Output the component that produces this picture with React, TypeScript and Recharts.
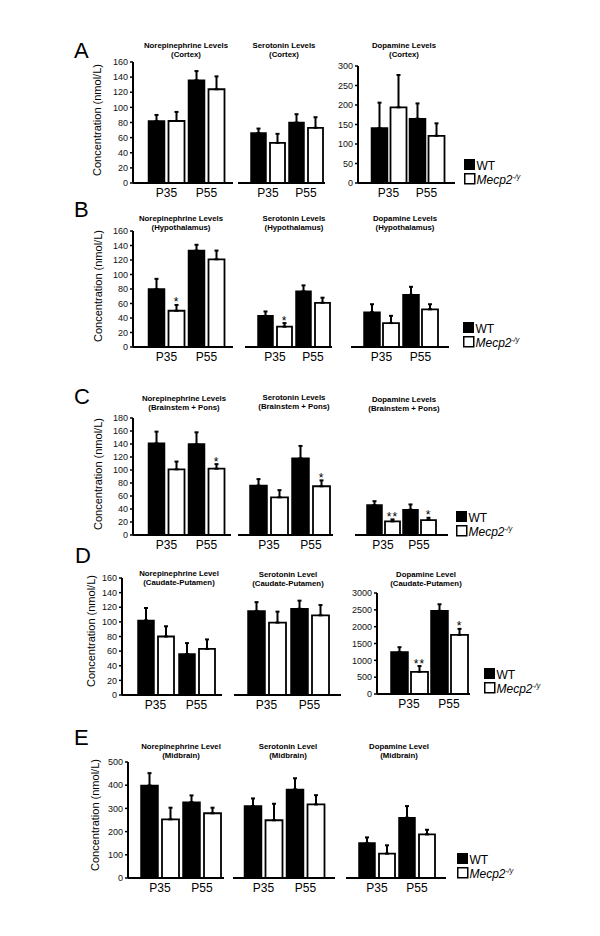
import React from 'react';
import { BarChart, Bar, XAxis, YAxis, ErrorBar, LabelList } from 'recharts';

const FONT = "'Liberation Sans', Arial, Helvetica, sans-serif";

const AGES = ['P35', 'P55'];
const TICKS_160 = [0, 20, 40, 60, 80, 100, 120, 140, 160];
const TICKS_180 = [0, 20, 40, 60, 80, 100, 120, 140, 160, 180];
const TICKS_300 = [0, 50, 100, 150, 200, 250, 300];
const TICKS_3000 = [0, 500, 1000, 1500, 2000, 2500, 3000];
const TICKS_500 = [0, 100, 200, 300, 400, 500];

const PANELS = ['A', 'B', 'C', 'D', 'E'];
const REGIONS = ['(Cortex)', '(Hypothalamus)', '(Brainstem + Pons)', '(Caudate-Putamen)', '(Midbrain)'];
const TITLES_PLURAL = ['Norepinephrine Levels', 'Serotonin Levels', 'Dopamine Levels'];
const TITLES_SINGLE = ['Norepinephrine Level', 'Serotonin Level', 'Dopamine Level'];

// A - cortex
const ctxNeWt = [82, 136];
const ctxNeWtErr = [8, 12];
const ctxNeKo = [82, 124];
const ctxNeKoErr = [12, 17];
const ctxSerWt = [66, 80];
const ctxSerWtErr = [6, 11];
const ctxSerKo = [53, 73];
const ctxSerKoErr = [12, 14];
const ctxDaWt = [141, 165];
const ctxDaWtErr = [65, 39];
const ctxDaKo = [194, 121];
const ctxDaKoErr = [83, 32];

// B - hypothalamus
const hypNeWt = [80, 133];
const hypNeWtErr = [14, 8];
const hypNeKo = [50, 121];
const hypNeKoErr = [8, 12];
const hypNeSig = ['*', ''];
const hypSerWt = [43, 77];
const hypSerWtErr = [6, 8];
const hypSerKo = [28, 61];
const hypSerKoErr = [5, 7];
const hypSerSig = ['*', ''];
const hypDaWt = [48, 72];
const hypDaWtErr = [11, 11];
const hypDaKo = [33, 52];
const hypDaKoErr = [10, 7];

// C - brainstem + pons
const bsNeWt = [141, 140];
const bsNeWtErr = [18, 18];
const bsNeKo = [101, 102];
const bsNeKoErr = [12, 7];
const bsNeSig = ['', '*'];
const bsSerWt = [76, 118];
const bsSerWtErr = [10, 19];
const bsSerKo = [58, 75];
const bsSerKoErr = [11, 9];
const bsSerSig = ['', '*'];
const bsDaWt = [46, 39];
const bsDaWtErr = [6, 8];
const bsDaKo = [21, 23];
const bsDaKoErr = [3, 3.5];
const bsDaSig = ['**', '*'];

// D - caudate-putamen
const cpNeWt = [102, 56];
const cpNeWtErr = [17, 15];
const cpNeKo = [80, 63];
const cpNeKoErr = [14, 13];
const cpSerWt = [115, 118];
const cpSerWtErr = [12, 11];
const cpSerKo = [99, 109];
const cpSerKoErr = [15, 14];
const cpDaWt = [1250, 2470];
const cpDaWtErr = [140, 195];
const cpDaKo = [660, 1755];
const cpDaKoErr = [170, 180];
const cpDaSig = ['**', '*'];

// E - midbrain
const mbNeWt = [399, 327];
const mbNeWtErr = [53, 29];
const mbNeKo = [253, 279];
const mbNeKoErr = [50, 24];
const mbSerWt = [310, 382];
const mbSerWtErr = [33, 48];
const mbSerKo = [249, 317];
const mbSerKoErr = [71, 40];
const mbDaWt = [151, 260];
const mbDaWtErr = [24, 50];
const mbDaKo = [105, 188];
const mbDaKoErr = [36, 20];

type Spec = {
  wt: number[]; wtErr: number[]; ko: number[]; koErr: number[]; sig?: string[];
  x0: number; x1: number; yTop: number; yBot: number; max: number; ticks?: number[];
  bs: number; gap: number; band: number; padL: number;
};

const charts: Spec[] = [
  { wt: ctxNeWt, wtErr: ctxNeWtErr, ko: ctxNeKo, koErr: ctxNeKoErr, x0: 133, x1: 233, yTop: 62, yBot: 183, max: 160, ticks: TICKS_160, bs: 16, gap: 4, band: 40, padL: 13.5 },
  { wt: ctxSerWt, wtErr: ctxSerWtErr, ko: ctxSerKo, koErr: ctxSerKoErr, x0: 238, x1: 325, yTop: 62, yBot: 183, max: 160, bs: 15, gap: 4, band: 38, padL: 11 },
  { wt: ctxDaWt, wtErr: ctxDaWtErr, ko: ctxDaKo, koErr: ctxDaKoErr, x0: 358, x1: 455, yTop: 66, yBot: 183, max: 300, ticks: TICKS_300, bs: 16, gap: 3, band: 38, padL: 11.5 },

  { wt: hypNeWt, wtErr: hypNeWtErr, ko: hypNeKo, koErr: hypNeKoErr, sig: hypNeSig, x0: 133, x1: 233, yTop: 231, yBot: 347, max: 160, ticks: TICKS_160, bs: 16, gap: 4, band: 40, padL: 13.5 },
  { wt: hypSerWt, wtErr: hypSerWtErr, ko: hypSerKo, koErr: hypSerKoErr, sig: hypSerSig, x0: 245, x1: 332, yTop: 231, yBot: 347, max: 160, bs: 15, gap: 4, band: 38, padL: 11 },
  { wt: hypDaWt, wtErr: hypDaWtErr, ko: hypDaKo, koErr: hypDaKoErr, x0: 351, x1: 449, yTop: 231, yBot: 347, max: 160, bs: 16, gap: 3, band: 39, padL: 11 },

  { wt: bsNeWt, wtErr: bsNeWtErr, ko: bsNeKo, koErr: bsNeKoErr, sig: bsNeSig, x0: 133, x1: 231, yTop: 418, yBot: 535, max: 180, ticks: TICKS_180, bs: 16, gap: 4, band: 40, padL: 13.5 },
  { wt: bsSerWt, wtErr: bsSerWtErr, ko: bsSerKo, koErr: bsSerKoErr, sig: bsSerSig, x0: 238, x1: 333, yTop: 418, yBot: 535, max: 180, bs: 17, gap: 4, band: 42, padL: 10 },
  { wt: bsDaWt, wtErr: bsDaWtErr, ko: bsDaKo, koErr: bsDaKoErr, sig: bsDaSig, x0: 355, x1: 448, yTop: 418, yBot: 535, max: 180, bs: 15, gap: 3, band: 36, padL: 10 },

  { wt: cpNeWt, wtErr: cpNeWtErr, ko: cpNeKo, koErr: cpNeKoErr, x0: 122, x1: 222, yTop: 578, yBot: 695, max: 160, ticks: TICKS_160, bs: 16, gap: 4, band: 41, padL: 13 },
  { wt: cpSerWt, wtErr: cpSerWtErr, ko: cpSerKo, koErr: cpSerKoErr, x0: 234, x1: 341, yTop: 578, yBot: 695, max: 160, bs: 17, gap: 4, band: 43, padL: 11 },
  { wt: cpDaWt, wtErr: cpDaWtErr, ko: cpDaKo, koErr: cpDaKoErr, sig: cpDaSig, x0: 377, x1: 470, yTop: 593, yBot: 694, max: 3000, ticks: TICKS_3000, bs: 17, gap: 3, band: 40, padL: 12 },

  { wt: mbNeWt, wtErr: mbNeWtErr, ko: mbNeKo, koErr: mbNeKoErr, x0: 128, x1: 224, yTop: 762, yBot: 878, max: 500, ticks: TICKS_500, bs: 17, gap: 4, band: 42, padL: 11 },
  { wt: mbSerWt, wtErr: mbSerWtErr, ko: mbSerKo, koErr: mbSerKoErr, x0: 233, x1: 335, yTop: 762, yBot: 878, max: 500, bs: 17, gap: 4, band: 42, padL: 9.5 },
  { wt: mbDaWt, wtErr: mbDaWtErr, ko: mbDaKo, koErr: mbDaKoErr, x0: 346, x1: 446, yTop: 762, yBot: 878, max: 500, bs: 16, gap: 4, band: 40, padL: 11 },
];

// per row: letter baseline, y-title centre, legend box, title centres
const rows = [
  { letterY: 58, yTitle: [97, 120], legend: [464, 159], titles: [[186, 45], [284, 45], [404, 45]] },
  { letterY: 217, yTitle: [98, 286], legend: [463, 322], titles: [[181, 218], [294, 218], [405, 218]] },
  { letterY: 404, yTitle: [98, 474], legend: [456, 511], titles: [[184, 398], [294, 397], [404, 399]] },
  { letterY: 563, yTitle: [91, 631], legend: [484, 668], titles: [[179, 573], [288, 574], [426, 574]] },
  { letterY: 745, yTitle: [95, 815], legend: [457, 853], titles: [[181, 746], [288, 746], [399, 746]] },
];

const Y_W = 30;
const M_TOP = 8;
const X_H = 24;
const M_RIGHT = 2;

const sigLabel = (s: Spec) => (props: any) => {
  const idx = props.index;
  const mark = s.sig ? s.sig[idx] : '';
  if (!mark) return null;
  const vb = props.viewBox && props.viewBox.width !== undefined ? props.viewBox : props;
  const x = Number(vb.x);
  const w = Number(vb.width);
  const h = Number(vb.height);
  const top = Math.min(Number(vb.y), Number(vb.y) + h);
  const perUnit = Math.abs(h) / s.ko[idx];
  const errTop = top - s.koErr[idx] * perUnit;
  return (
    <text x={x + w / 2} y={errTop + 1.5} textAnchor="middle" fontSize={12} fontFamily={FONT} fill="#000" letterSpacing={1}>
      {mark}
    </text>
  );
};

function SubChart({ s }: { s: Spec }) {
  const data = AGES.map((age, i) => ({
    age,
    wt: s.wt[i],
    wtErr: [0, s.wtErr[i]],
    ko: s.ko[i],
    koErr: [0, s.koErr[i]],
  }));
  const plotW = s.x1 - s.x0;
  const padR = Math.max(0, plotW - s.padL - 2 * s.band);
  const width = plotW + Y_W + M_RIGHT;
  const height = s.yBot - s.yTop + M_TOP + X_H;
  return (
    <div style={{ position: 'absolute', left: s.x0 - Y_W, top: s.yTop - M_TOP }}>
      <BarChart
        width={width}
        height={height}
        data={data}
        margin={{ top: M_TOP, right: M_RIGHT, bottom: 0, left: s.ticks ? 0 : Y_W }}
        barGap={s.gap}
      >
        <XAxis
          dataKey="age"
          height={X_H}
          padding={{ left: s.padL, right: padR }}
          tickLine={false}
          tickSize={0}
          tickMargin={5}
          interval={0}
          axisLine={{ stroke: '#000', strokeWidth: 2 }}
          tick={{ fontSize: 12, fill: '#000', fontFamily: FONT }}
        />
        <YAxis
          hide={!s.ticks}
          width={Y_W}
          domain={[0, s.max]}
          ticks={s.ticks}
          interval={0}
          allowDataOverflow
          tickSize={3}
          tickMargin={2}
          axisLine={{ stroke: '#000', strokeWidth: 2 }}
          tickLine={{ stroke: '#000', strokeWidth: 1.5 }}
          tick={{ fontSize: 9, fill: '#111', fontFamily: FONT }}
        />
        <Bar dataKey="wt" fill="#000" stroke="#000" strokeWidth={1.5} barSize={s.bs} isAnimationActive={false}>
          <ErrorBar dataKey="wtErr" direction="y" width={2} strokeWidth={2} stroke="#000" isAnimationActive={false} />
        </Bar>
        <Bar dataKey="ko" fill="#fff" stroke="#000" strokeWidth={1.8} barSize={s.bs} isAnimationActive={false}>
          <ErrorBar dataKey="koErr" direction="y" width={2} strokeWidth={2} stroke="#000" isAnimationActive={false} />
          {s.sig && <LabelList dataKey="ko" content={sigLabel(s)} />}
        </Bar>
      </BarChart>
    </div>
  );
}

function Overlay() {
  return (
    <svg width={600} height={936} style={{ position: 'absolute', left: 0, top: 0, pointerEvents: 'none' }}>
      {rows.map((r, ri) => {
        const names = ri < 3 ? TITLES_PLURAL : TITLES_SINGLE;
        const [lx, ly] = r.legend;
        return (
          <g key={ri} fontFamily={FONT} fill="#000">
            <text x={ri === 3 ? 75 : 74} y={r.letterY} fontSize={22}>{PANELS[ri]}</text>
            <text
              x={r.yTitle[0]}
              y={r.yTitle[1]}
              fontSize={11}
              textAnchor="middle"
              dominantBaseline="central"
              transform={`rotate(-90, ${r.yTitle[0]}, ${r.yTitle[1]})`}
            >
              Concentration (nmol/L)
            </text>
            {r.titles.map(([cx, cy], ti) => (
              <g key={ti}>
                <text x={cx} y={cy + 3} fontSize={7.8} fontWeight="bold" textAnchor="middle">{names[ti]}</text>
                <text x={cx} y={cy + 12} fontSize={7.8} fontWeight="bold" textAnchor="middle">{REGIONS[ri]}</text>
              </g>
            ))}
            <rect x={lx} y={ly} width={11} height={11} fill="#000" />
            <rect x={lx + 0.75} y={ly + 14.75} width={10} height={10} fill="#fff" stroke="#000" strokeWidth={1.5} />
            <text x={lx + 12.5} y={ly + 10.5} fontSize={12}>WT</text>
            <text x={lx + 12.5} y={ly + 25} fontSize={12} fontStyle="italic">
              Mecp2<tspan fontSize={7} dy={-5}>-/y</tspan>
            </text>
          </g>
        );
      })}
    </svg>
  );
}

export default function App() {
  return (
    <div style={{ position: 'absolute', left: 0, top: 0, width: 600, height: 936, background: '#fff', overflow: 'hidden' }}>
      {charts.map((s, i) => (
        <SubChart key={i} s={s} />
      ))}
      <Overlay />
    </div>
  );
}
